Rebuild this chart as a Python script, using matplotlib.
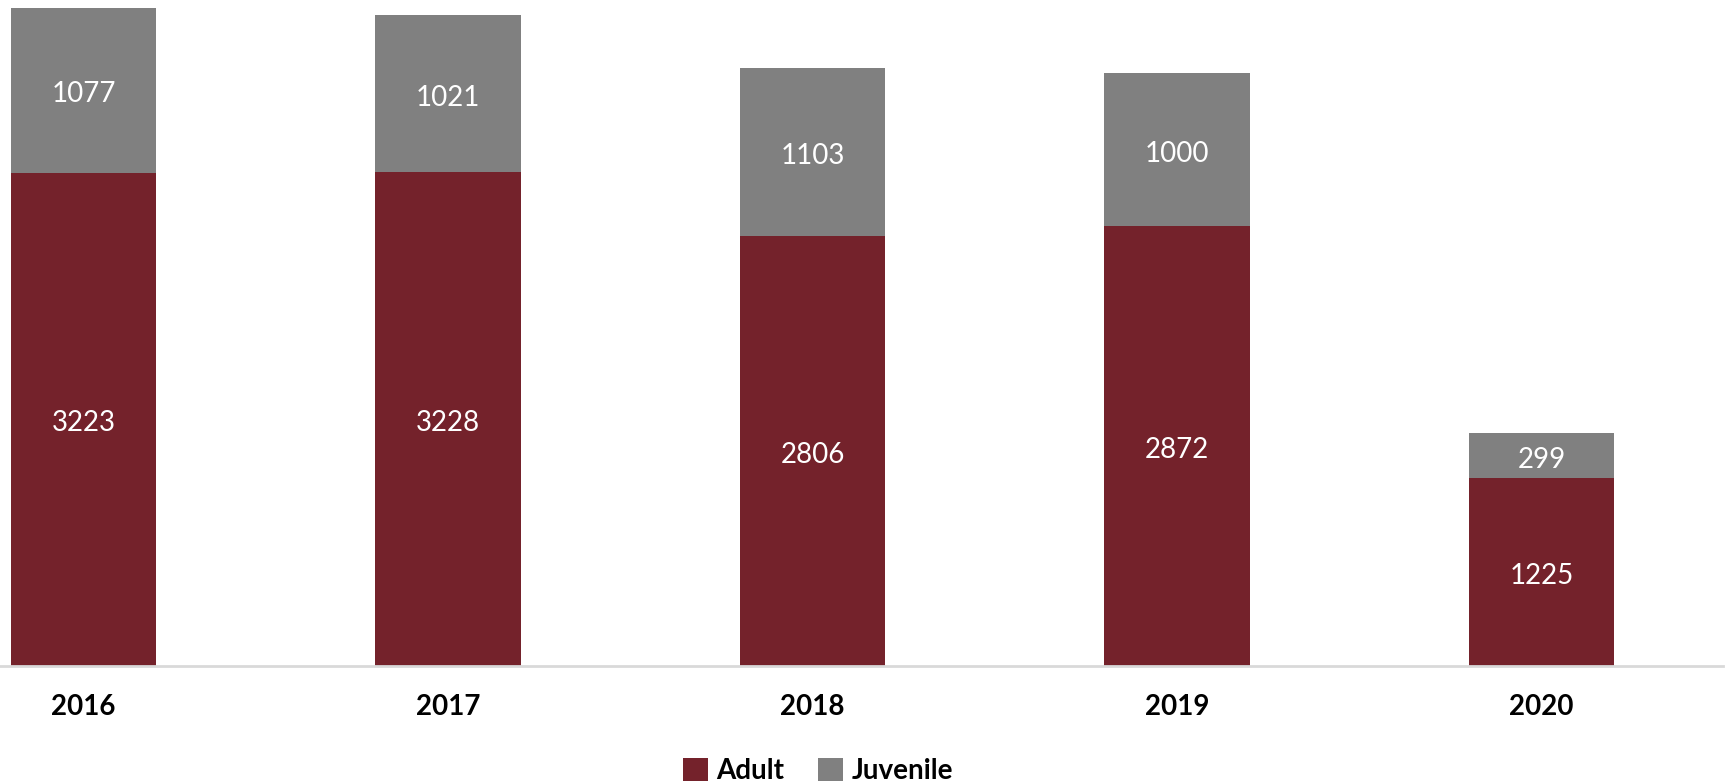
import matplotlib.pyplot as plt
import numpy as np

# Arrests by year
years = ["2016", "2017", "2018", "2019", "2020"]
adult = [3223, 3228, 2806, 2872, 1225]
juvenile = [1077, 1021, 1103, 1000, 299]

plt.rcParams["font.family"] = ["Lato", "DejaVu Sans"]

fig = plt.figure(figsize=(17.29, 7.83), dpi=100)
ax = fig.add_axes([0, 117 / 783, 1723 / 1729, 666 / 783])

x = np.arange(len(years))
b1 = ax.bar(x, adult, width=0.4, color="#74222B", label="Adult")
b2 = ax.bar(x, juvenile, width=0.4, bottom=adult, color="#808080", label="Juvenile")

# white value labels in the middle of each segment
ax.bar_label(b1, labels=[str(v) for v in adult], label_type="center",
             color="white", fontsize=20, padding=-3)
ax.bar_label(b2, labels=[str(v) for v in juvenile], label_type="center",
             color="white", fontsize=20, padding=-3)

ax.set_xlim(-0.229, 4.498)
ax.set_ylim(0, 4350)
ax.set_xticks(x)
ax.set_xticklabels(years, fontsize=20, fontweight="bold")
ax.tick_params(axis="x", length=0, pad=20)
ax.set_yticks([])
for s in ["top", "right", "left"]:
    ax.spines[s].set_visible(False)
ax.spines["bottom"].set_color("#D9D9D9")
ax.spines["bottom"].set_linewidth(2)

fig.legend(handles=[b1, b2], loc="center", bbox_to_anchor=(818 / 1729, 1 - 771 / 783),
           ncol=2, frameon=False, handlelength=0.9, handleheight=0.9,
           handletextpad=0.3, columnspacing=1.2,
           prop={"size": 20, "weight": "bold"})

fig.savefig("out.png", dpi=100)
